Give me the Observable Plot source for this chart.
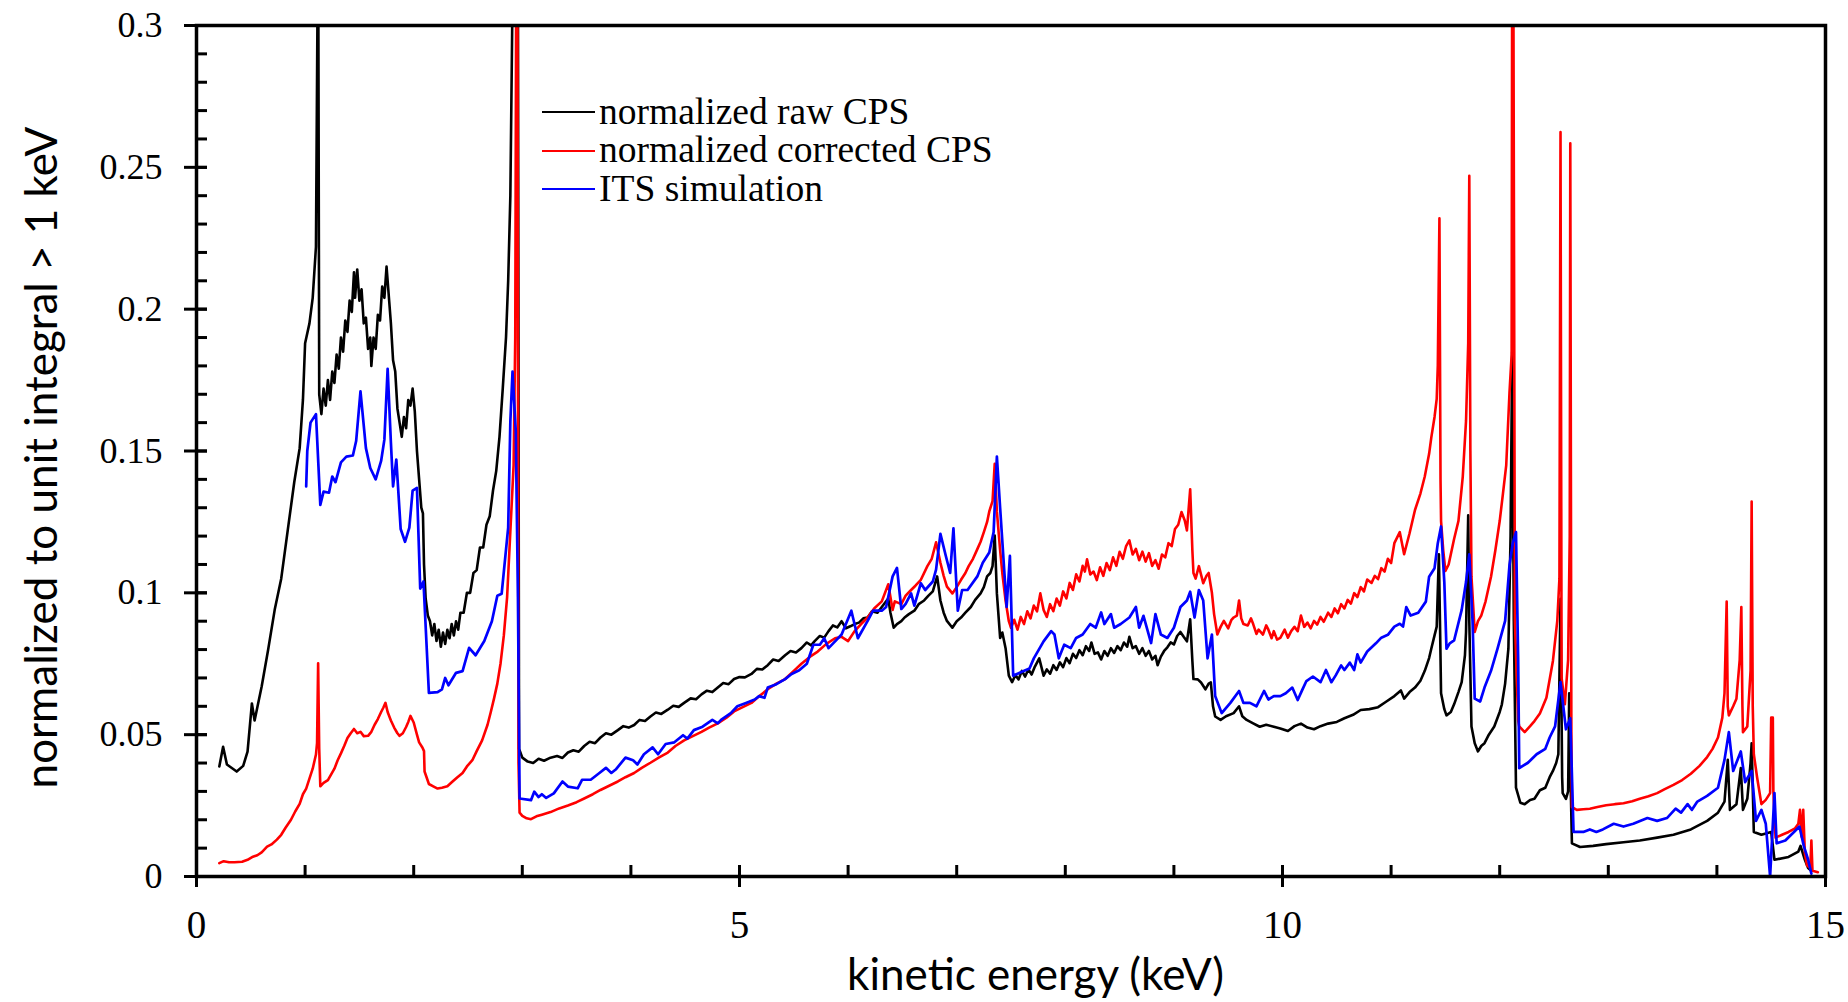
<!DOCTYPE html>
<html><head><meta charset="utf-8">
<script src="https://cdn.jsdelivr.net/npm/d3@7"></script>
<script src="https://cdn.jsdelivr.net/npm/@observablehq/plot@0.6"></script>
<style>
html,body{margin:0;padding:0;background:#fff;}
#wrap{position:relative;width:1848px;height:1002px;overflow:hidden;}
#legend{position:absolute;left:542px;top:92.5px;font-family:"Liberation Serif","Times New Roman",serif;font-size:37.5px;line-height:38.8px;color:#000;white-space:nowrap;}
#legend .row{display:flex;align-items:center;height:38.8px;}
#legend svg{margin-right:4px;}
</style></head>
<body><div id="wrap"><div id="chart"></div><div id="legend"></div></div>
<script>
// ---- data ----
const seriesLabels = ["normalized raw CPS", "normalized corrected CPS", "ITS simulation"];
const seriesColors = ["#000000", "#ff0000", "#0000ff"];
const xTicks = [0, 5, 10, 15];
const xMinor = [0,1,2,3,4,5,6,7,8,9,10,11,12,13,14,15];
const yTicks = [0, 0.05, 0.1, 0.15, 0.2, 0.25, 0.3];
const yMinor = [0.01,0.02,0.03,0.04,0.05,0.06,0.07,0.08,0.09,0.1,0.11,0.12,0.13,0.14,0.15,0.16,0.17,0.18,0.19,0.2,0.21,0.22,0.23,0.24,0.25,0.26,0.27,0.28,0.29];

// [energy keV, value]
const rawCPS = [
[0.21,0.0388],[0.245,0.0457],[0.28,0.0395],[0.37,0.037],[0.43,0.039],[0.47,0.044],[0.51,0.061],[0.535,0.055],[0.6,0.067],[0.66,0.08],[0.72,0.094],[0.78,0.105],[0.84,0.122],[0.9,0.139],[0.95,0.151],[0.98,0.168],[1.0,0.188],[1.04,0.195],[1.07,0.204],[1.1,0.222],[1.12,0.34],[1.13,0.17],
[1.15,0.163],[1.17,0.172],[1.19,0.166],[1.21,0.175],[1.23,0.168],[1.25,0.178],[1.27,0.174],[1.29,0.184],[1.31,0.179],[1.33,0.19],[1.35,0.185],[1.37,0.196],[1.39,0.192],[1.41,0.203],[1.43,0.199],[1.45,0.213],[1.46,0.204],[1.48,0.214],[1.5,0.203],[1.52,0.207],[1.54,0.195],[1.56,0.197],[1.58,0.186],[1.6,0.19],[1.61,0.18],[1.63,0.19],[1.65,0.186],[1.67,0.198],[1.69,0.196],[1.71,0.208],[1.73,0.204],[1.75,0.215],[1.77,0.205],[1.79,0.195],[1.81,0.182],[1.83,0.178],[1.85,0.165],[1.87,0.16],[1.89,0.155],[1.91,0.162],[1.93,0.158],[1.95,0.168],[1.97,0.166],[1.99,0.172],[2.01,0.164],[2.03,0.15],[2.05,0.14],[2.07,0.13],[2.085,0.128],[2.095,0.11],[2.11,0.098],[2.13,0.092],[2.15,0.09],[2.17,0.085],[2.19,0.089],[2.21,0.083],[2.23,0.087],[2.25,0.081],[2.27,0.086],[2.29,0.082],[2.31,0.087],[2.33,0.084],[2.35,0.089],[2.37,0.085],[2.39,0.09],[2.41,0.087],[2.43,0.093],[2.46,0.093],[2.49,0.1],[2.52,0.1],[2.55,0.107],[2.58,0.108],[2.61,0.116],[2.64,0.116],[2.67,0.124],[2.7,0.127],[2.73,0.136],[2.76,0.143],[2.79,0.155],[2.82,0.172],[2.85,0.19],[2.87,0.21],[2.89,0.24],[2.91,0.31],[2.96,0.31],[2.97,0.045],
[2.98,0.044],[3.0,0.0419],[3.05,0.0405],[3.1,0.04],[3.15,0.0415],[3.2,0.0408],[3.26,0.0419],[3.32,0.0425],[3.37,0.0418],[3.42,0.0437],[3.47,0.0445],[3.52,0.044],[3.57,0.046],[3.62,0.0475],[3.67,0.047],[3.72,0.049],[3.77,0.0505],[3.82,0.05],[3.88,0.0516],[3.93,0.053],[3.98,0.0525],[4.03,0.0534],[4.08,0.0552],[4.13,0.0548],[4.18,0.0564],[4.23,0.0578],[4.28,0.0573],[4.34,0.0588],[4.39,0.0602],[4.44,0.0598],[4.49,0.0612],[4.55,0.0628],[4.6,0.0625],[4.65,0.0642],[4.7,0.0655],[4.75,0.065],[4.8,0.0666],[4.85,0.0682],[4.9,0.0678],[4.95,0.0696],[5.0,0.0703],[5.05,0.0702],[5.11,0.0714],[5.16,0.0732],[5.21,0.073],[5.26,0.0745],[5.31,0.0765],[5.36,0.076],[5.42,0.078],[5.47,0.0795],[5.52,0.079],[5.57,0.0805],[5.62,0.0825],[5.66,0.0815],[5.69,0.0829],[5.74,0.0848],[5.78,0.0842],[5.82,0.0865],[5.86,0.0885],[5.9,0.0878],[5.94,0.09],[5.98,0.0875],[6.02,0.0882],[6.06,0.089],[6.1,0.0895],[6.14,0.091],[6.18,0.0913],[6.22,0.0935],[6.27,0.093],[6.31,0.095],[6.34,0.0965],[6.37,0.098],[6.39,0.093],[6.42,0.0877],[6.45,0.089],[6.49,0.09],
[6.52,0.0913],[6.56,0.0925],[6.61,0.0937],[6.65,0.096],[6.7,0.0973],[6.74,0.099],[6.78,0.1005],[6.82,0.1058],[6.85,0.0973],[6.88,0.093],[6.91,0.0901],[6.96,0.0877],[7.0,0.09],[7.04,0.0913],[7.08,0.093],[7.13,0.095],[7.17,0.0975],[7.22,0.0998],[7.25,0.102],[7.28,0.1058],[7.31,0.107],[7.33,0.1094],[7.35,0.1202],[7.37,0.0998],[7.4,0.0841],[7.42,0.086],[7.45,0.0805],[7.48,0.0708],
[7.51,0.0685],[7.54,0.071],[7.57,0.0695],[7.6,0.0725],[7.63,0.0705],[7.66,0.073],[7.69,0.0712],[7.72,0.074],[7.76,0.0769],[7.8,0.0708],[7.83,0.073],[7.86,0.0715],[7.89,0.0745],[7.92,0.0728],[7.95,0.0755],[7.98,0.0738],[8.01,0.077],[8.04,0.0752],[8.07,0.0785],[8.1,0.077],[8.13,0.0798],[8.16,0.078],[8.19,0.0812],[8.22,0.0795],[8.24,0.0825],[8.27,0.0785],[8.3,0.079],[8.33,0.0765],[8.36,0.0795],[8.39,0.0778],[8.42,0.0805],[8.45,0.0788],[8.48,0.0812],[8.51,0.0798],[8.54,0.0825],[8.57,0.081],[8.59,0.0845],[8.62,0.0805],[8.65,0.0812],[8.68,0.0785],[8.71,0.0805],[8.74,0.0778],[8.77,0.0795],[8.8,0.0765],[8.83,0.0778],[8.85,0.0745],[8.88,0.0775],[8.91,0.0795],[8.94,0.0808],[8.97,0.0825],[9.0,0.0818],[9.03,0.0848],[9.06,0.0862],[9.09,0.0845],[9.12,0.0829],[9.15,0.0907],[9.17,0.076],[9.18,0.0696],[9.22,0.0695],[9.25,0.0684],[9.29,0.066],[9.32,0.068],[9.34,0.0684],[9.36,0.06],[9.38,0.0564],[9.43,0.0552],[9.48,0.0565],[9.55,0.0576],[9.6,0.06],[9.63,0.0565],[9.67,0.0552],[9.73,0.054],[9.79,0.0528],[9.85,0.0535],[9.92,0.0528],[9.98,0.0522],
[10.05,0.0513],[10.11,0.053],[10.17,0.0539],[10.23,0.0525],[10.29,0.0519],[10.35,0.053],[10.42,0.0539],[10.5,0.0545],[10.57,0.0558],[10.65,0.057],[10.72,0.0587],[10.8,0.059],[10.88,0.0597],[10.95,0.0615],[11.03,0.0636],[11.09,0.0656],[11.12,0.0627],[11.17,0.065],[11.22,0.0666],[11.27,0.069],[11.31,0.0725],[11.35,0.077],[11.37,0.0803],[11.4,0.085],[11.42,0.0881],[11.44,0.1136],[11.45,0.09],[11.46,0.0646],[11.49,0.059],[11.51,0.0568],[11.55,0.058],[11.58,0.0607],[11.62,0.065],[11.65,0.0685],[11.68,0.078],[11.69,0.0862],[11.71,0.1273],[11.72,0.09],[11.74,0.0529],[11.77,0.047],[11.8,0.0441],[11.83,0.046],[11.86,0.047],[11.9,0.05],[11.95,0.0529],[12.0,0.058],[12.02,0.0607],[12.05,0.068],[12.08,0.0803],[12.1,0.12],[12.115,0.185],[12.13,0.09],[12.15,0.0313],[12.19,0.026],[12.23,0.0255],[12.28,0.027],[12.32,0.0274],[12.37,0.0304],[12.42,0.0313],[12.46,0.035],[12.49,0.0372],[12.52,0.04],[12.54,0.0431],[12.56,0.0979],[12.575,0.035],[12.58,0.0294],[12.61,0.0274],[12.63,0.03],[12.64,0.0646],[12.655,0.03],[12.665,0.0117],
[12.74,0.0104],[12.86,0.0108],[12.98,0.0114],[13.14,0.0121],[13.29,0.0127],[13.45,0.0137],[13.6,0.0147],[13.76,0.0166],[13.91,0.0196],[14.01,0.0225],[14.07,0.0264],[14.1,0.0411],[14.12,0.0235],[14.18,0.0255],[14.22,0.0382],[14.24,0.0235],[14.28,0.0274],[14.31,0.04],[14.32,0.047],[14.34,0.0157],[14.41,0.0147],[14.5,0.0157],[14.53,0.0059],[14.66,0.0069],[14.75,0.0088],[14.77,0.0108],[14.81,0.0059],[14.84,0.003],[14.87,0.002]
];

const correctedCPS = [
[0.21,0.0047],[0.25,0.0054],[0.3,0.005],[0.35,0.005],[0.42,0.0052],[0.47,0.0059],[0.52,0.007],[0.56,0.0075],[0.6,0.0085],[0.65,0.0105],[0.69,0.0113],[0.74,0.013],[0.78,0.0147],[0.82,0.0172],[0.87,0.02],[0.91,0.023],[0.95,0.0256],[0.98,0.029],[1.01,0.031],[1.04,0.0345],[1.07,0.038],[1.1,0.043],[1.11,0.047],[1.12,0.0752],[1.13,0.045],[1.14,0.0318],[1.17,0.033],[1.21,0.034],[1.24,0.036],[1.27,0.038],[1.3,0.041],[1.33,0.0434],[1.36,0.046],[1.39,0.0488],[1.42,0.0505],[1.45,0.052],[1.48,0.0505],[1.51,0.051],[1.54,0.0495],[1.58,0.0496],[1.61,0.051],[1.64,0.0535],[1.67,0.0555],[1.7,0.058],[1.72,0.0595],[1.74,0.0612],[1.76,0.058],[1.79,0.055],[1.82,0.0525],[1.85,0.0505],[1.87,0.0496],[1.9,0.0505],[1.93,0.0527],[1.95,0.0545],[1.97,0.0566],[2.0,0.0543],[2.03,0.05],[2.05,0.0473],[2.08,0.0455],[2.095,0.0442],[2.1,0.037],[2.14,0.0326],[2.18,0.0318],[2.22,0.031],[2.26,0.0313],[2.31,0.0318],[2.35,0.0332],[2.4,0.0349],[2.45,0.0365],[2.49,0.0388],[2.54,0.041],[2.58,0.0442],[2.63,0.048],[2.68,0.0535],[2.71,0.058],[2.74,0.0628],[2.77,0.068],[2.8,0.0752],[2.83,0.085],[2.86,0.0984],[2.89,0.1217],[2.92,0.145],[2.935,0.19],[2.945,0.33],[2.955,0.33],[2.965,0.04],[2.975,0.0225],
[3.0,0.0214],[3.04,0.0205],[3.08,0.0202],[3.13,0.0212],[3.18,0.0218],[3.26,0.0227],[3.34,0.024],[3.42,0.025],[3.5,0.0262],[3.57,0.0275],[3.65,0.029],[3.72,0.0305],[3.8,0.032],[3.88,0.0335],[3.95,0.035],[4.03,0.0365],[4.1,0.0383],[4.18,0.0401],[4.26,0.042],[4.34,0.0437],[4.41,0.046],[4.49,0.048],[4.57,0.0495],[4.65,0.051],[4.72,0.0525],[4.8,0.054],[4.88,0.056],[4.95,0.0582],[5.03,0.0597],[5.11,0.0612],[5.18,0.0635],[5.26,0.066],[5.34,0.068],[5.42,0.0696],[5.5,0.0725],[5.57,0.075],[5.65,0.0775],[5.72,0.0793],[5.8,0.082],[5.88,0.084],[5.94,0.0845],[6.0,0.083],[6.06,0.0865],[6.12,0.089],[6.18,0.0913],[6.24,0.0945],[6.31,0.097],[6.37,0.103],[6.41,0.094],[6.43,0.097],[6.49,0.096],
[6.53,0.099],[6.58,0.101],[6.62,0.1025],[6.67,0.1046],[6.73,0.1094],[6.77,0.112],[6.81,0.1178],[6.85,0.1106],[6.88,0.106],[6.91,0.1022],[6.96,0.0998],[7.0,0.102],[7.04,0.1046],[7.08,0.107],[7.11,0.1094],[7.15,0.112],[7.19,0.1154],[7.22,0.118],[7.25,0.1214],[7.28,0.125],[7.3,0.1287],[7.33,0.1323],[7.35,0.1455],[7.37,0.1287],[7.4,0.115],[7.42,0.107],[7.45,0.0973],[7.48,0.09],[7.5,0.0877],
[7.53,0.0905],[7.56,0.087],[7.59,0.0915],[7.62,0.089],[7.65,0.0935],[7.68,0.091],[7.71,0.0955],[7.74,0.0935],[7.77,0.0998],[7.8,0.094],[7.83,0.0915],[7.86,0.096],[7.89,0.0935],[7.92,0.098],[7.95,0.0955],[7.98,0.1005],[8.01,0.098],[8.04,0.1035],[8.07,0.101],[8.1,0.1065],[8.13,0.104],[8.16,0.1095],[8.18,0.1075],[8.2,0.1118],[8.23,0.1065],[8.26,0.1075],[8.29,0.1045],[8.32,0.109],[8.35,0.106],[8.38,0.1105],[8.41,0.108],[8.44,0.1125],[8.47,0.1095],[8.5,0.1145],[8.53,0.112],[8.56,0.1165],[8.59,0.1185],[8.62,0.1135],[8.65,0.1155],[8.68,0.1115],[8.71,0.1145],[8.74,0.111],[8.77,0.114],[8.8,0.1095],[8.83,0.1115],[8.86,0.1085],[8.89,0.1135],[8.92,0.1125],[8.95,0.1175],[8.98,0.1165],[9.01,0.1225],[9.04,0.124],[9.07,0.1285],[9.1,0.1255],[9.12,0.122],[9.15,0.1365],[9.17,0.115],[9.18,0.107],[9.2,0.105],[9.23,0.1094],[9.27,0.1034],[9.3,0.106],[9.32,0.107],[9.35,0.1],[9.37,0.0925],[9.4,0.0853],[9.43,0.088],[9.46,0.0901],[9.5,0.0875],[9.53,0.0905],[9.55,0.0913],[9.58,0.092],[9.6,0.0973],[9.62,0.091],[9.64,0.089],[9.68,0.0885],[9.71,0.091],[9.73,0.089],[9.76,0.0855],[9.78,0.087],[9.82,0.0853],[9.85,0.0885],[9.87,0.087],[9.9,0.084],[9.92,0.0865],[9.95,0.0835],[9.98,0.0841],
[10.02,0.087],[10.05,0.0842],[10.08,0.0865],[10.11,0.088],[10.14,0.0865],[10.17,0.092],[10.2,0.088],[10.23,0.0895],[10.26,0.0875],[10.29,0.0901],[10.32,0.0888],[10.35,0.0915],[10.38,0.0898],[10.42,0.093],[10.45,0.0915],[10.48,0.0945],[10.51,0.0928],[10.54,0.096],[10.57,0.0945],[10.6,0.0975],[10.63,0.0962],[10.66,0.0999],[10.69,0.0985],[10.72,0.102],[10.75,0.1005],[10.78,0.1047],[10.82,0.1035],[10.85,0.106],[10.88,0.1048],[10.91,0.1087],[10.94,0.1075],[10.97,0.112],[11.0,0.1105],[11.03,0.1175],[11.08,0.1214],[11.12,0.1136],[11.17,0.121],[11.22,0.1292],[11.27,0.135],[11.31,0.141],[11.35,0.149],[11.37,0.1547],[11.4,0.162],[11.42,0.1684],[11.43,0.18],[11.445,0.232],[11.455,0.14],[11.46,0.1253],[11.48,0.115],[11.5,0.1077],[11.53,0.11],[11.55,0.1136],[11.58,0.119],[11.62,0.1253],[11.66,0.141],[11.69,0.1606],[11.71,0.188],[11.72,0.247],[11.73,0.15],[11.74,0.1057],[11.77,0.0862],[11.8,0.09],[11.83,0.092],[11.87,0.097],[11.92,0.1057],[11.96,0.115],[12.0,0.1253],[12.03,0.135],[12.06,0.1449],[12.09,0.1704],[12.11,0.184],[12.115,0.33],[12.125,0.33],[12.14,0.09],[12.17,0.055],[12.18,0.0529],[12.23,0.0509],[12.28,0.053],[12.32,0.0548],[12.37,0.0575],[12.43,0.063],[12.49,0.076],[12.53,0.09],[12.55,0.105],[12.56,0.2624],[12.57,0.07],[12.6,0.0607],[12.63,0.0764],[12.645,0.12],[12.65,0.2585],[12.66,0.05],[12.665,0.0245],
[12.71,0.0235],[12.77,0.0237],[12.83,0.0239],[12.9,0.0245],[12.98,0.0251],[13.06,0.0255],[13.14,0.0258],[13.22,0.0265],[13.29,0.0274],[13.37,0.0283],[13.45,0.0294],[13.52,0.0308],[13.6,0.0323],[13.68,0.034],[13.76,0.0362],[13.84,0.039],[13.91,0.0421],[13.96,0.045],[14.01,0.049],[14.05,0.056],[14.07,0.0646],[14.09,0.0969],[14.1,0.06],[14.11,0.0568],[14.15,0.06],[14.18,0.0627],[14.21,0.0764],[14.225,0.095],[14.235,0.06],[14.24,0.0509],[14.28,0.0529],[14.31,0.0725],[14.32,0.1322],[14.33,0.06],[14.34,0.0431],[14.37,0.035],[14.41,0.0255],[14.45,0.027],[14.49,0.0294],[14.5,0.056],[14.515,0.056],[14.52,0.03],[14.54,0.0137],[14.6,0.0147],[14.66,0.0157],[14.72,0.017],[14.75,0.0186],[14.765,0.0235],[14.78,0.014],[14.795,0.0235],[14.81,0.008],[14.83,0.0039],[14.86,0.003],[14.87,0.0127],[14.88,0.002],[14.93,0.0015]
];

const itsSimulation = [
[1.01,0.1375],[1.02,0.15],[1.05,0.16],[1.1,0.163],[1.14,0.131],[1.17,0.1357],[1.22,0.1353],[1.25,0.141],[1.28,0.139],[1.33,0.146],[1.38,0.148],[1.44,0.1484],[1.47,0.1535],[1.51,0.171],[1.56,0.151],[1.6,0.144],[1.65,0.14],[1.7,0.1465],[1.73,0.154],[1.76,0.179],[1.79,0.153],[1.81,0.1375],[1.84,0.147],[1.88,0.1225],[1.92,0.118],[1.96,0.123],[1.99,0.136],[2.03,0.137],[2.06,0.1015],[2.09,0.104],[2.14,0.0647],[2.22,0.065],[2.26,0.066],[2.29,0.07],[2.32,0.0674],[2.39,0.0718],[2.45,0.0724],[2.51,0.0806],[2.57,0.078],[2.65,0.083],[2.72,0.09],[2.77,0.099],[2.81,0.0997],[2.87,0.123],[2.89,0.1605],[2.91,0.178],[2.94,0.157],[2.96,0.098],[2.975,0.0275],
[3.08,0.0269],[3.11,0.0299],[3.15,0.028],[3.18,0.029],[3.22,0.0277],[3.29,0.0293],[3.37,0.0335],[3.42,0.0317],[3.51,0.0311],[3.55,0.0341],[3.63,0.0341],[3.71,0.0365],[3.77,0.0383],[3.82,0.0365],[3.86,0.0377],[3.95,0.0419],[4.02,0.041],[4.06,0.0395],[4.12,0.0431],[4.2,0.0455],[4.25,0.0431],[4.32,0.0467],[4.4,0.0473],[4.48,0.0498],[4.52,0.0486],[4.58,0.0516],[4.66,0.0528],[4.75,0.0552],[4.8,0.054],[4.83,0.0552],[4.92,0.0576],[4.98,0.06],[5.06,0.0612],[5.14,0.0624],[5.18,0.0636],[5.23,0.063],[5.26,0.0666],[5.34,0.0678],[5.42,0.0696],[5.48,0.0714],[5.55,0.0727],[5.62,0.075],[5.68,0.0817],[5.74,0.0817],[5.78,0.084],[5.82,0.0805],[5.88,0.0829],[5.94,0.0853],[6.03,0.0937],[6.09,0.084],[6.18,0.0901],[6.23,0.0937],[6.31,0.0937],[6.35,0.095],
[6.41,0.1058],[6.45,0.1088],[6.49,0.0943],[6.53,0.0961],[6.58,0.0998],[6.61,0.0955],[6.67,0.1034],[6.71,0.101],[6.78,0.104],[6.81,0.1082],[6.85,0.1208],[6.9,0.113],[6.94,0.107],[6.97,0.1227],[7.01,0.0937],[7.05,0.101],[7.1,0.101],[7.19,0.1058],[7.24,0.1106],[7.3,0.1142],[7.34,0.1214],[7.37,0.148],[7.4,0.1299],[7.46,0.095],[7.49,0.113],[7.52,0.0708],[7.59,0.072],[7.67,0.0733],[7.71,0.0769],[7.8,0.0829],[7.87,0.0865],[7.9,0.0853],[7.94,0.0769],[7.99,0.0817],[8.05,0.0805],[8.1,0.0841],[8.16,0.0853],[8.23,0.089],[8.28,0.0877],[8.33,0.0931],[8.36,0.089],[8.42,0.0925],[8.45,0.0877],[8.51,0.089],[8.59,0.0913],[8.65,0.095],[8.68,0.0877],[8.72,0.0919],[8.79,0.0823],[8.83,0.0925],[8.88,0.0853],[8.94,0.0841],[9.0,0.0877],[9.06,0.095],[9.12,0.0973],[9.15,0.1004],[9.19,0.0913],[9.23,0.101],[9.27,0.0973],[9.31,0.0769],[9.35,0.0853],[9.38,0.0636],[9.44,0.0576],[9.52,0.0612],[9.6,0.0654],[9.64,0.0612],[9.7,0.0612],[9.76,0.06],[9.83,0.0654],[9.87,0.0624],[9.92,0.0636],[9.98,0.0636],
[10.03,0.0646],[10.09,0.0666],[10.14,0.0622],[10.18,0.0656],[10.22,0.0689],[10.28,0.0705],[10.35,0.0685],[10.4,0.0728],[10.45,0.0685],[10.49,0.0709],[10.54,0.0744],[10.57,0.0728],[10.62,0.0754],[10.66,0.0728],[10.69,0.0783],[10.72,0.0754],[10.78,0.0793],[10.86,0.0822],[10.91,0.0842],[10.97,0.0852],[11.03,0.0881],[11.08,0.0891],[11.11,0.0881],[11.14,0.095],[11.18,0.092],[11.25,0.093],[11.32,0.0969],[11.35,0.1057],[11.4,0.1087],[11.43,0.1175],[11.46,0.1234],[11.49,0.1038],[11.51,0.0803],[11.54,0.0822],[11.58,0.0832],[11.65,0.094],[11.69,0.1038],[11.72,0.1136],[11.75,0.0901],[11.77,0.0627],[11.82,0.0617],[11.86,0.0666],[11.92,0.0725],[11.98,0.0803],[12.05,0.0901],[12.09,0.1097],[12.12,0.1175],[12.15,0.1214],[12.17,0.0764],[12.18,0.0382],[12.26,0.0401],[12.34,0.0431],[12.42,0.045],[12.46,0.049],[12.51,0.0529],[12.56,0.0685],[12.61,0.0519],[12.65,0.0558],[12.68,0.0157],
[12.77,0.0157],[12.83,0.0166],[12.89,0.0157],[12.95,0.0166],[13.05,0.0186],[13.14,0.0176],[13.23,0.0186],[13.36,0.0206],[13.45,0.0196],[13.54,0.0206],[13.62,0.0239],[13.67,0.0225],[13.73,0.0255],[13.77,0.0235],[13.82,0.0264],[13.91,0.0284],[14.01,0.0313],[14.07,0.0411],[14.11,0.0509],[14.15,0.0372],[14.22,0.0441],[14.26,0.0333],[14.32,0.0372],[14.36,0.0196],[14.41,0.0235],[14.45,0.0186],[14.49,0.0],[14.53,0.0294],[14.55,0.0117],[14.63,0.0127],[14.71,0.0157],[14.76,0.0176],[14.8,0.0108],[14.84,0.0059],[14.87,0.001]
];

const xTitle = "kinetic energy (keV)";
const yTitle = "normalized to unit integral > 1 keV";

// ---- layout ----
const W = 1848, H = 1002;
const mL = 196, mR = 23, mT = 25, mB = 126;
const plotW = W - mL - mR, plotH = H - mT - mB;
const serif = "Liberation Serif";
const sans = "Lato";

const lineOpts = (color, sw) => ({x: d => d[0], y: d => d[1], stroke: color, strokeWidth: sw, clip: true, strokeLinejoin: "round"});

const chart = Plot.plot({
  width: W, height: H,
  marginLeft: mL, marginRight: mR, marginTop: mT, marginBottom: mB,
  x: {domain: [0, 15]},
  y: {domain: [0, 0.3]},
  style: {background: "#fff", color: "#000"},
  marks: [
    Plot.line(rawCPS, lineOpts(seriesColors[0], 2.6)),
    Plot.line(correctedCPS, lineOpts(seriesColors[1], 2.6)),
    Plot.line(itsSimulation, lineOpts(seriesColors[2], 2.7)),
    // inward minor ticks
    Plot.tickY(yMinor, {y: d => d, stroke: "#000", strokeWidth: 3, insetRight: plotW - 11}),
    Plot.tickX(xMinor, {x: d => d, stroke: "#000", strokeWidth: 3, insetTop: plotH - 11}),
    Plot.tickY(yTicks, {y: d => d, stroke: "#000", strokeWidth: 3, insetRight: plotW - 11}),
    Plot.axisY({ticks: yTicks, tickSize: 12, tickPadding: 22, tickFormat: d => String(d), label: null,
      fontSize: 36, fontFamily: serif, strokeWidth: 3}),
    Plot.axisX({ticks: xTicks, tickSize: 11, tickPadding: 23, tickFormat: d => String(d), label: null,
      fontSize: 39, fontFamily: serif, strokeWidth: 3}),
    Plot.frame({stroke: "#000", strokeWidth: 3.5}),
    Plot.text([xTitle], {text: d => d, frameAnchor: "bottom", dx: 24.5, dy: 99.5, lineAnchor: "middle",
      fontSize: 44, fontFamily: sans, fill: "#000"}),
    Plot.text([yTitle], {text: d => d, frameAnchor: "left", rotate: -90, dx: -154, dy: 6.5, lineAnchor: "middle",
      textAnchor: "middle", fontSize: 44, fontFamily: sans, fill: "#000"})
  ]
});
document.getElementById("chart").appendChild(chart);

// legend
const legend = document.getElementById("legend");
seriesLabels.forEach((label, i) => {
  const row = document.createElement("div");
  row.className = "row";
  row.innerHTML = `<svg width="53" height="6"><line x1="0" y1="3" x2="53" y2="3" stroke="${seriesColors[i]}" stroke-width="2.2"/></svg><span>${label}</span>`;
  legend.appendChild(row);
});
</script>
</body></html>
